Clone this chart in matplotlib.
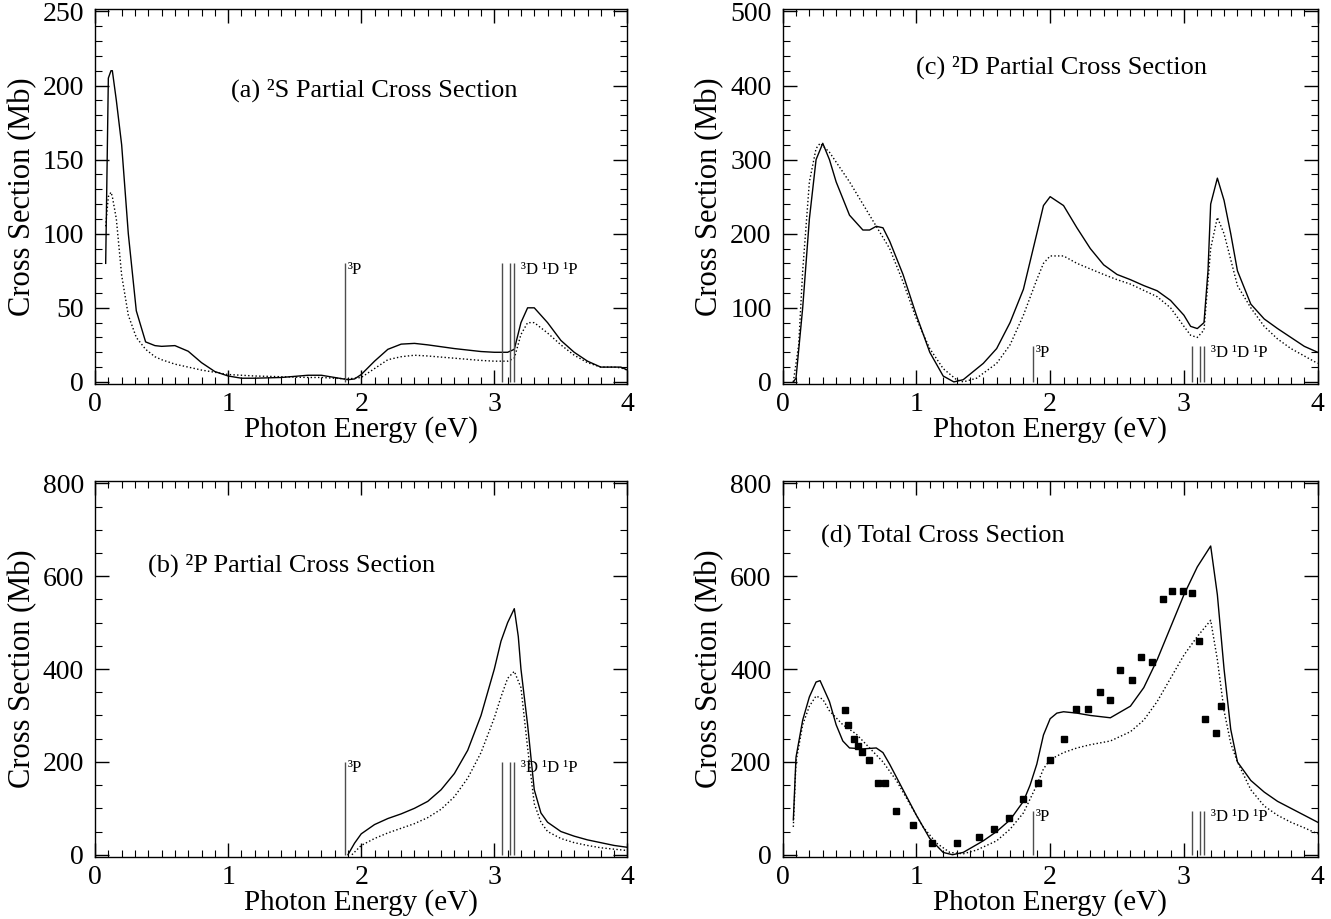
import numpy as np
import matplotlib
matplotlib.use('Agg')
import matplotlib.pyplot as plt
from matplotlib.ticker import MultipleLocator

plt.rcParams['font.family'] = ['Liberation Serif', 'DejaVu Serif']

# ---- (a) 2S partial cross section ----
a_x = [0.08, 0.10, 0.12, 0.13, 0.16, 0.20, 0.25, 0.31, 0.38, 0.45, 0.50, 0.60, 0.70, 0.80, 0.90, 1.00,
       1.10, 1.20, 1.40, 1.60, 1.70, 1.80, 1.90, 1.95, 2.00, 2.10, 2.20, 2.30, 2.40, 2.50, 2.70, 2.90,
       3.00, 3.10, 3.15, 3.20, 3.25, 3.30, 3.40, 3.50, 3.60, 3.70, 3.80, 3.90, 3.95, 4.00]
a_solid = [80, 205, 210, 210, 190, 160, 100, 48, 27, 24.5, 24, 24.5, 20.7, 13, 7, 4,
           2.5, 2.5, 3, 4.5, 4.5, 3, 1.5, 2, 5, 14, 22, 25.5, 26, 25, 22.5, 20.5,
           20, 20, 22, 40, 50, 50, 40, 28, 20, 14, 10, 10, 10, 8]
a_dot = [105, 125, 128, 125, 110, 72, 45, 30, 22, 17, 15, 12, 10, 8, 6.5, 5,
         4.5, 4, 3.5, 3, 3, 2.5, 2, 2.5, 3, 9, 15, 17, 18, 17.5, 16, 14.5,
         14, 14, 16, 32, 40, 40, 33, 25, 18, 13, 10, 10, 9.5, 8]

# ---- (b) 2P partial cross section ----
b_x = [1.90, 1.95, 2.00, 2.10, 2.20, 2.30, 2.40, 2.50, 2.60, 2.70, 2.80, 2.90, 3.00, 3.05, 3.10,
       3.15, 3.18, 3.20, 3.25, 3.30, 3.35, 3.40, 3.50, 3.60, 3.70, 3.80, 3.90, 4.00]
b_solid = [0, 25, 45, 65, 78, 88, 100, 115, 140, 175, 225, 300, 400, 460, 500,
           530, 470, 400, 280, 140, 90, 70, 50, 40, 32, 26, 20, 16]
b_dx = [1.93, 2.00, 2.10, 2.20, 2.30, 2.40, 2.50, 2.60, 2.70, 2.80, 2.90, 3.00, 3.05, 3.10,
        3.15, 3.20, 3.25, 3.30, 3.35, 3.40, 3.50, 3.60, 3.70, 3.80, 3.90, 4.00]
b_dot = [0, 20, 35, 47, 57, 67, 80, 98, 125, 165, 220, 295, 340, 380,
         395, 360, 230, 110, 70, 50, 35, 26, 20, 15, 12, 9]

# ---- (c) 2D partial cross section ----
c_x = [0.08, 0.10, 0.15, 0.20, 0.25, 0.30, 0.35, 0.40, 0.50, 0.60, 0.65, 0.70, 0.75, 0.80, 0.90,
       1.00, 1.10, 1.20, 1.28, 1.35, 1.50, 1.60, 1.70, 1.80, 1.90, 1.95, 2.00, 2.10, 2.20, 2.30, 2.40,
       2.50, 2.60, 2.70, 2.80, 2.90, 3.00, 3.05, 3.10, 3.15, 3.18, 3.20, 3.25, 3.30, 3.35, 3.40,
       3.50, 3.60, 3.70, 3.80, 3.90, 4.00]
c_solid = [0, 5, 100, 220, 300, 322, 300, 270, 225, 205, 205, 210, 208, 190, 145,
           90, 40, 8, 0, 3, 25, 45, 80, 125, 200, 238, 250, 238, 208, 180, 158,
           145, 138, 130, 123, 110, 90, 75, 72, 80, 150, 240, 275, 245, 200, 150,
           105, 85, 72, 60, 48, 40]
c_dx = [0.08, 0.12, 0.15, 0.20, 0.25, 0.28, 0.35, 0.50, 0.60, 0.70, 0.80, 0.90, 1.00, 1.10,
        1.20, 1.30, 1.35, 1.45, 1.60, 1.70, 1.80, 1.90, 1.95, 2.00, 2.10, 2.20, 2.40, 2.50, 2.60,
        2.80, 2.90, 3.00, 3.05, 3.10, 3.15, 3.20, 3.25, 3.30, 3.35, 3.40, 3.50, 3.60, 3.70,
        3.80, 3.90, 4.00]
c_dot = [0, 50, 150, 270, 315, 322, 310, 270, 240, 210, 180, 135, 85, 45,
         18, 3, 0, 5, 25, 50, 90, 138, 160, 170, 170, 160, 145, 138, 132,
         115, 100, 75, 63, 60, 70, 180, 222, 200, 165, 130, 100, 75, 58,
         45, 35, 25]

# ---- (d) total cross section ----
d_x = [0.08, 0.10, 0.15, 0.20, 0.25, 0.28, 0.35, 0.40, 0.45, 0.50, 0.60, 0.70, 0.75, 0.80, 0.90,
       1.00, 1.10, 1.20, 1.27, 1.35, 1.50, 1.60, 1.70, 1.80, 1.85, 1.90, 1.95, 2.00, 2.05, 2.10,
       2.20, 2.30, 2.45, 2.60, 2.70, 2.80, 2.90, 3.00, 3.10, 3.20, 3.25, 3.30, 3.35, 3.40, 3.50,
       3.60, 3.70, 3.80, 3.90, 4.00]
d_solid = [75, 210, 290, 340, 372, 375, 330, 280, 245, 230, 228, 230, 220, 195, 140,
           85, 35, 5, 0, 5, 30, 50, 75, 115, 150, 195, 258, 293, 305, 308,
           305, 300, 295, 320, 360, 420, 490, 560, 620, 665, 560, 400, 270, 200, 160,
           135, 115, 100, 85, 70]
d_dx = [0.08, 0.10, 0.15, 0.20, 0.25, 0.30, 0.35, 0.45, 0.55, 0.65, 0.75, 0.85, 0.95, 1.05,
        1.15, 1.25, 1.35, 1.45, 1.60, 1.70, 1.80, 1.90, 1.95, 2.00, 2.10, 2.20, 2.30, 2.45,
        2.60, 2.70, 2.80, 2.90, 3.00, 3.10, 3.20, 3.25, 3.30, 3.35, 3.40, 3.50, 3.60, 3.70,
        3.80, 3.90, 4.00]
d_dot = [60, 200, 280, 320, 342, 335, 310, 280, 260, 230, 200, 160, 110, 60,
         25, 5, 2, 10, 30, 55, 90, 150, 185, 205, 220, 230, 237, 245,
         265, 290, 330, 380, 430, 470, 505, 420, 310, 240, 200, 140, 105, 85,
         70, 58, 45]

# measured points (squares)
exp_x = [0.466, 0.486, 0.537, 0.563, 0.595, 0.646, 0.711, 0.762, 0.846, 0.974, 1.12, 1.30,
         1.466, 1.58, 1.69, 1.80, 1.91, 2.00, 2.10, 2.19, 2.28, 2.37, 2.45, 2.52, 2.61,
         2.68, 2.76, 2.84, 2.91, 2.99, 3.06, 3.11, 3.16, 3.24, 3.28]
exp_y = [311, 280, 249, 235, 222, 204, 154, 154, 94, 64, 25, 25,
         38, 55, 79, 120, 154, 203, 249, 313, 314, 350, 333, 397, 377,
         425, 416, 550, 568, 568, 564, 460, 292, 262, 321]

# thresholds
thr_x = [1.875, 3.06, 3.12, 3.15]
thr_names = ['³P', '³D ¹D ¹P']

fig = plt.figure(figsize=(13.31, 9.19), dpi=100)
ax_a = fig.add_axes([0.0714, 0.582, 0.400, 0.408])
ax_c = fig.add_axes([0.588, 0.582, 0.402, 0.408])
ax_b = fig.add_axes([0.0714, 0.0675, 0.400, 0.409])
ax_d = fig.add_axes([0.588, 0.0675, 0.402, 0.409])


def style(ax, ymax, ymaj, ymin):
    ax.set_xlim(0, 4)
    ax.set_ylim(-0.006 * ymax, 1.006 * ymax)
    ax.xaxis.set_major_locator(MultipleLocator(1))
    ax.xaxis.set_minor_locator(MultipleLocator(0.1))
    ax.yaxis.set_major_locator(MultipleLocator(ymaj))
    ax.yaxis.set_minor_locator(MultipleLocator(ymin))
    ax.tick_params(which='both', direction='in', top=True, right=True, labelsize=20)
    ax.tick_params(axis='x', pad=6)
    ax.tick_params(axis='y', pad=8)
    ax.tick_params(which='major', length=10, width=1)
    ax.tick_params(which='minor', length=5, width=0.8)
    ax.set_xlabel('Photon Energy (eV)', fontsize=21, labelpad=-1)
    ax.set_ylabel('Cross Section (Mb)', fontsize=22, labelpad=4)
    for s in ax.spines.values():
        s.set_linewidth(1)


def thresholds(ax, h, lab_y):
    ax.vlines(thr_x, 0, h, colors='0.3', linewidth=1)
    ax.text(thr_x[0] + 0.02, lab_y, thr_names[0], fontsize=12, va='top', ha='left')
    ax.text(thr_x[3] + 0.05, lab_y, thr_names[1], fontsize=12, va='top', ha='left')


style(ax_a, 250, 50, 10)
ax_a.plot(a_x, a_solid, 'k-', lw=1)
ax_a.plot(a_x, a_dot, 'k:', lw=1)
thresholds(ax_a, 80, 81)
ax_a.text(1.02, 197, '(a) ²S Partial Cross Section', fontsize=19, va='center')

style(ax_c, 500, 100, 20)
ax_c.plot(c_x, c_solid, 'k-', lw=1)
ax_c.plot(c_dx, c_dot, 'k:', lw=1)
thresholds(ax_c, 48, 50)
ax_c.text(1.0, 425, '(c) ²D Partial Cross Section', fontsize=19, va='center')

style(ax_b, 800, 200, 50)
ax_b.plot(b_x, b_solid, 'k-', lw=1)
ax_b.plot(b_dx, b_dot, 'k:', lw=1)
thresholds(ax_b, 200, 203)
ax_b.text(0.4, 623, '(b) ²P Partial Cross Section', fontsize=19, va='center')

style(ax_d, 800, 200, 50)
ax_d.plot(d_x, d_solid, 'k-', lw=1)
ax_d.plot(d_dx, d_dot, 'k:', lw=1)
ax_d.plot(exp_x, exp_y, 'ks', ms=5)
thresholds(ax_d, 95, 98)
ax_d.text(0.29, 685, '(d) Total Cross Section', fontsize=19, va='center')

fig.savefig('out.png', dpi=100)
